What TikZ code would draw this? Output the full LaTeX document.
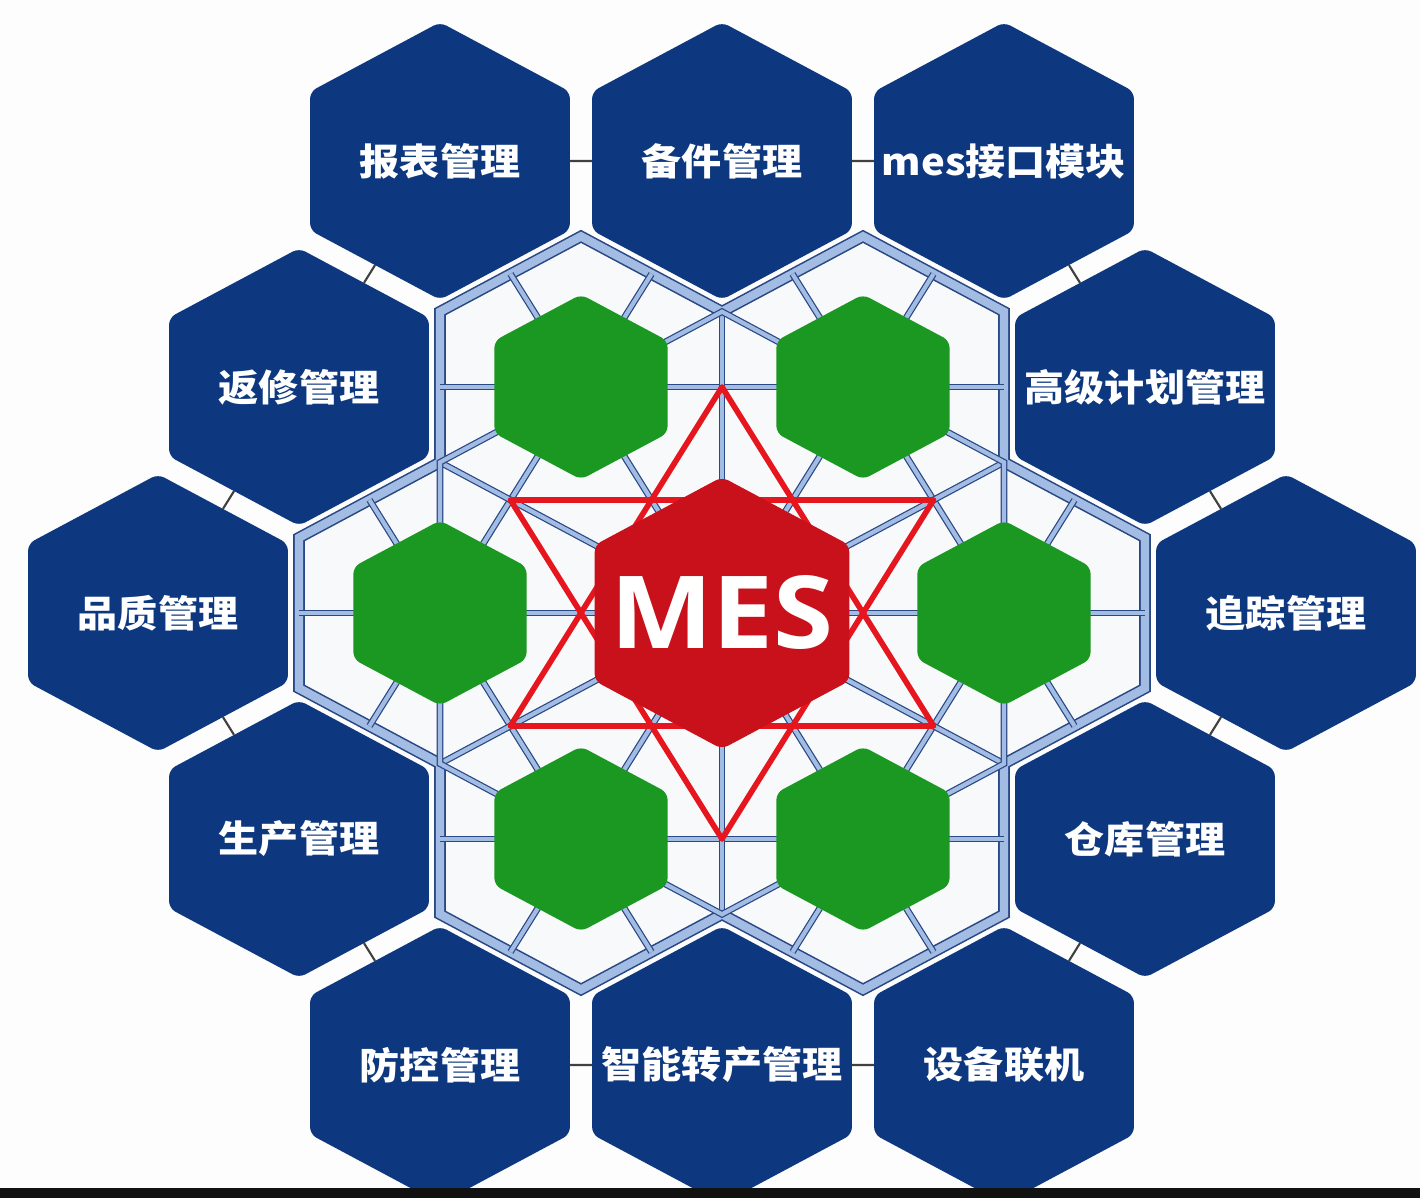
\documentclass[tikz,border=0pt]{standalone}
\usepackage{fontspec}
\newfontfamily\cjk{Noto Sans CJK SC}
\newfontfamily\messans{Open Sans}
\usetikzlibrary{shapes.geometric}

\definecolor{modblue}{HTML}{0D3880}
\definecolor{cellgreen}{HTML}{1B9822}
\definecolor{mesred}{HTML}{C8111B}
\definecolor{starred}{HTML}{E5161D}
\definecolor{meshedge}{HTML}{2A4884}
\definecolor{meshfill}{HTML}{A2BCE4}
\definecolor{pagebg}{HTML}{FDFDFD}
\definecolor{cellbg}{HTML}{F8F9FA}

\begin{document}
\begin{tikzpicture}[
    hexbase/.style={regular polygon, regular polygon sides=6, shape border rotate=30, inner sep=0pt, outer sep=0pt, yscale=0.925, rounded corners=2pt},
    bluehex/.style={hexbase, fill=modblue, minimum size=3.0cm, text=white, font=\cjk\bfseries\fontsize{11.4}{13}\selectfont},
    greenhex/.style={hexbase, fill=cellgreen, minimum size=2.0cm},
    meshex/.style={hexbase, fill=mesred, minimum size=2.94cm, text=white, font=\messans\bfseries\fontsize{31}{31}\selectfont},
    mesh/.style={draw=meshedge, line width=0.35pt, double=meshfill, double distance=1.2pt},
    rim/.style={draw=meshedge, line width=0.45pt, double=meshfill, double distance=2.4pt},
    link/.style={draw=black!75, line width=0.6pt},
    star/.style={draw=starred, line width=1.6pt, line join=round}
]
    \useasboundingbox (0,0) rectangle (14.2,11.98);
    \fill[pagebg] (0,0) rectangle (14.2,11.98);

    % Inner field
    \filldraw[fill=cellbg, rim] (5.81,9.616) -- (7.22,8.863) -- (8.63,9.616) -- (10.04,8.863)
        -- (10.04,7.357) -- (11.45,6.603) -- (11.45,5.097) -- (10.04,4.343) -- (10.04,2.837)
        -- (8.63,2.084) -- (7.22,2.837) -- (5.81,2.084) -- (4.40,2.837) -- (4.40,4.343)
        -- (2.99,5.097) -- (2.99,6.603) -- (4.40,7.357) -- (4.40,8.863) -- cycle;
    \foreach \y/\xa/\xb in {8.11/4.40/10.04, 5.85/2.99/11.45, 3.59/4.40/10.04}
        \draw[mesh] (\xa,\y) -- (\xb,\y);
    \foreach \a/\b in {{5.105,2.46}/{9.335,9.24}, {3.695,4.72}/{6.515,9.24}, {7.925,2.46}/{10.745,6.98},
                       {9.335,2.46}/{5.105,9.24}, {10.745,4.72}/{7.925,9.24}, {6.515,2.46}/{3.695,6.98},
                       {7.22,8.863}/{7.22,2.837}, {4.40,4.343}/{10.04,7.357}, {4.40,7.357}/{10.04,4.343}}
        \draw[mesh] (\a) -- (\b);
    \draw[mesh] (4.40,7.357) -- (7.22,8.863) -- (10.04,7.357) -- (10.04,4.343)
        -- (7.22,2.837) -- (4.40,4.343) -- cycle;

    % Star
    \draw[star] (7.22,8.11) -- (5.104,4.72) -- (9.336,4.72) -- cycle;
    \draw[star] (7.22,3.59) -- (5.104,6.98) -- (9.336,6.98) -- cycle;

    % Nodes
    \node[greenhex] (g-tl) at (5.81,8.11) {};
    \node[greenhex] (g-tr) at (8.63,8.11) {};
    \node[greenhex] (g-l) at (4.40,5.85) {};
    \node[greenhex] (g-r) at (10.04,5.85) {};
    \node[greenhex] (g-bl) at (5.81,3.59) {};
    \node[greenhex] (g-br) at (8.63,3.59) {};
    \node[meshex] (mes) at (7.22,5.85) {\makebox[0pt]{MES}};

    \node[bluehex] (report) at (4.40,10.37) {\makebox[0pt]{报表管理}};
    \node[bluehex] (spare) at (7.22,10.37) {\makebox[0pt]{备件管理}};
    \node[bluehex] (iface) at (10.04,10.37) {\makebox[0pt]{mes接口模块}};
    \node[bluehex] (repair) at (2.99,8.11) {\makebox[0pt]{返修管理}};
    \node[bluehex] (plan) at (11.45,8.11) {\makebox[0pt]{高级计划管理}};
    \node[bluehex] (quality) at (1.58,5.85) {\makebox[0pt]{品质管理}};
    \node[bluehex] (trace) at (12.86,5.85) {\makebox[0pt]{追踪管理}};
    \node[bluehex] (prod) at (2.99,3.59) {\makebox[0pt]{生产管理}};
    \node[bluehex] (store) at (11.45,3.59) {\makebox[0pt]{仓库管理}};
    \node[bluehex] (defend) at (4.40,1.33) {\makebox[0pt]{防控管理}};
    \node[bluehex] (smart) at (7.22,1.33) {\makebox[0pt]{智能转产管理}};
    \node[bluehex] (device) at (10.04,1.33) {\makebox[0pt]{设备联机}};

    % Links
    \foreach \a/\b in {report/spare, spare/iface, iface/plan, plan/trace, trace/store, store/device,
                       device/smart, smart/defend, defend/prod, prod/quality, quality/repair, repair/report}
        \draw[link] (\a) -- (\b);

    \fill[black!93] (0,0) rectangle (14.2,0.10);
\end{tikzpicture}
\end{document}
